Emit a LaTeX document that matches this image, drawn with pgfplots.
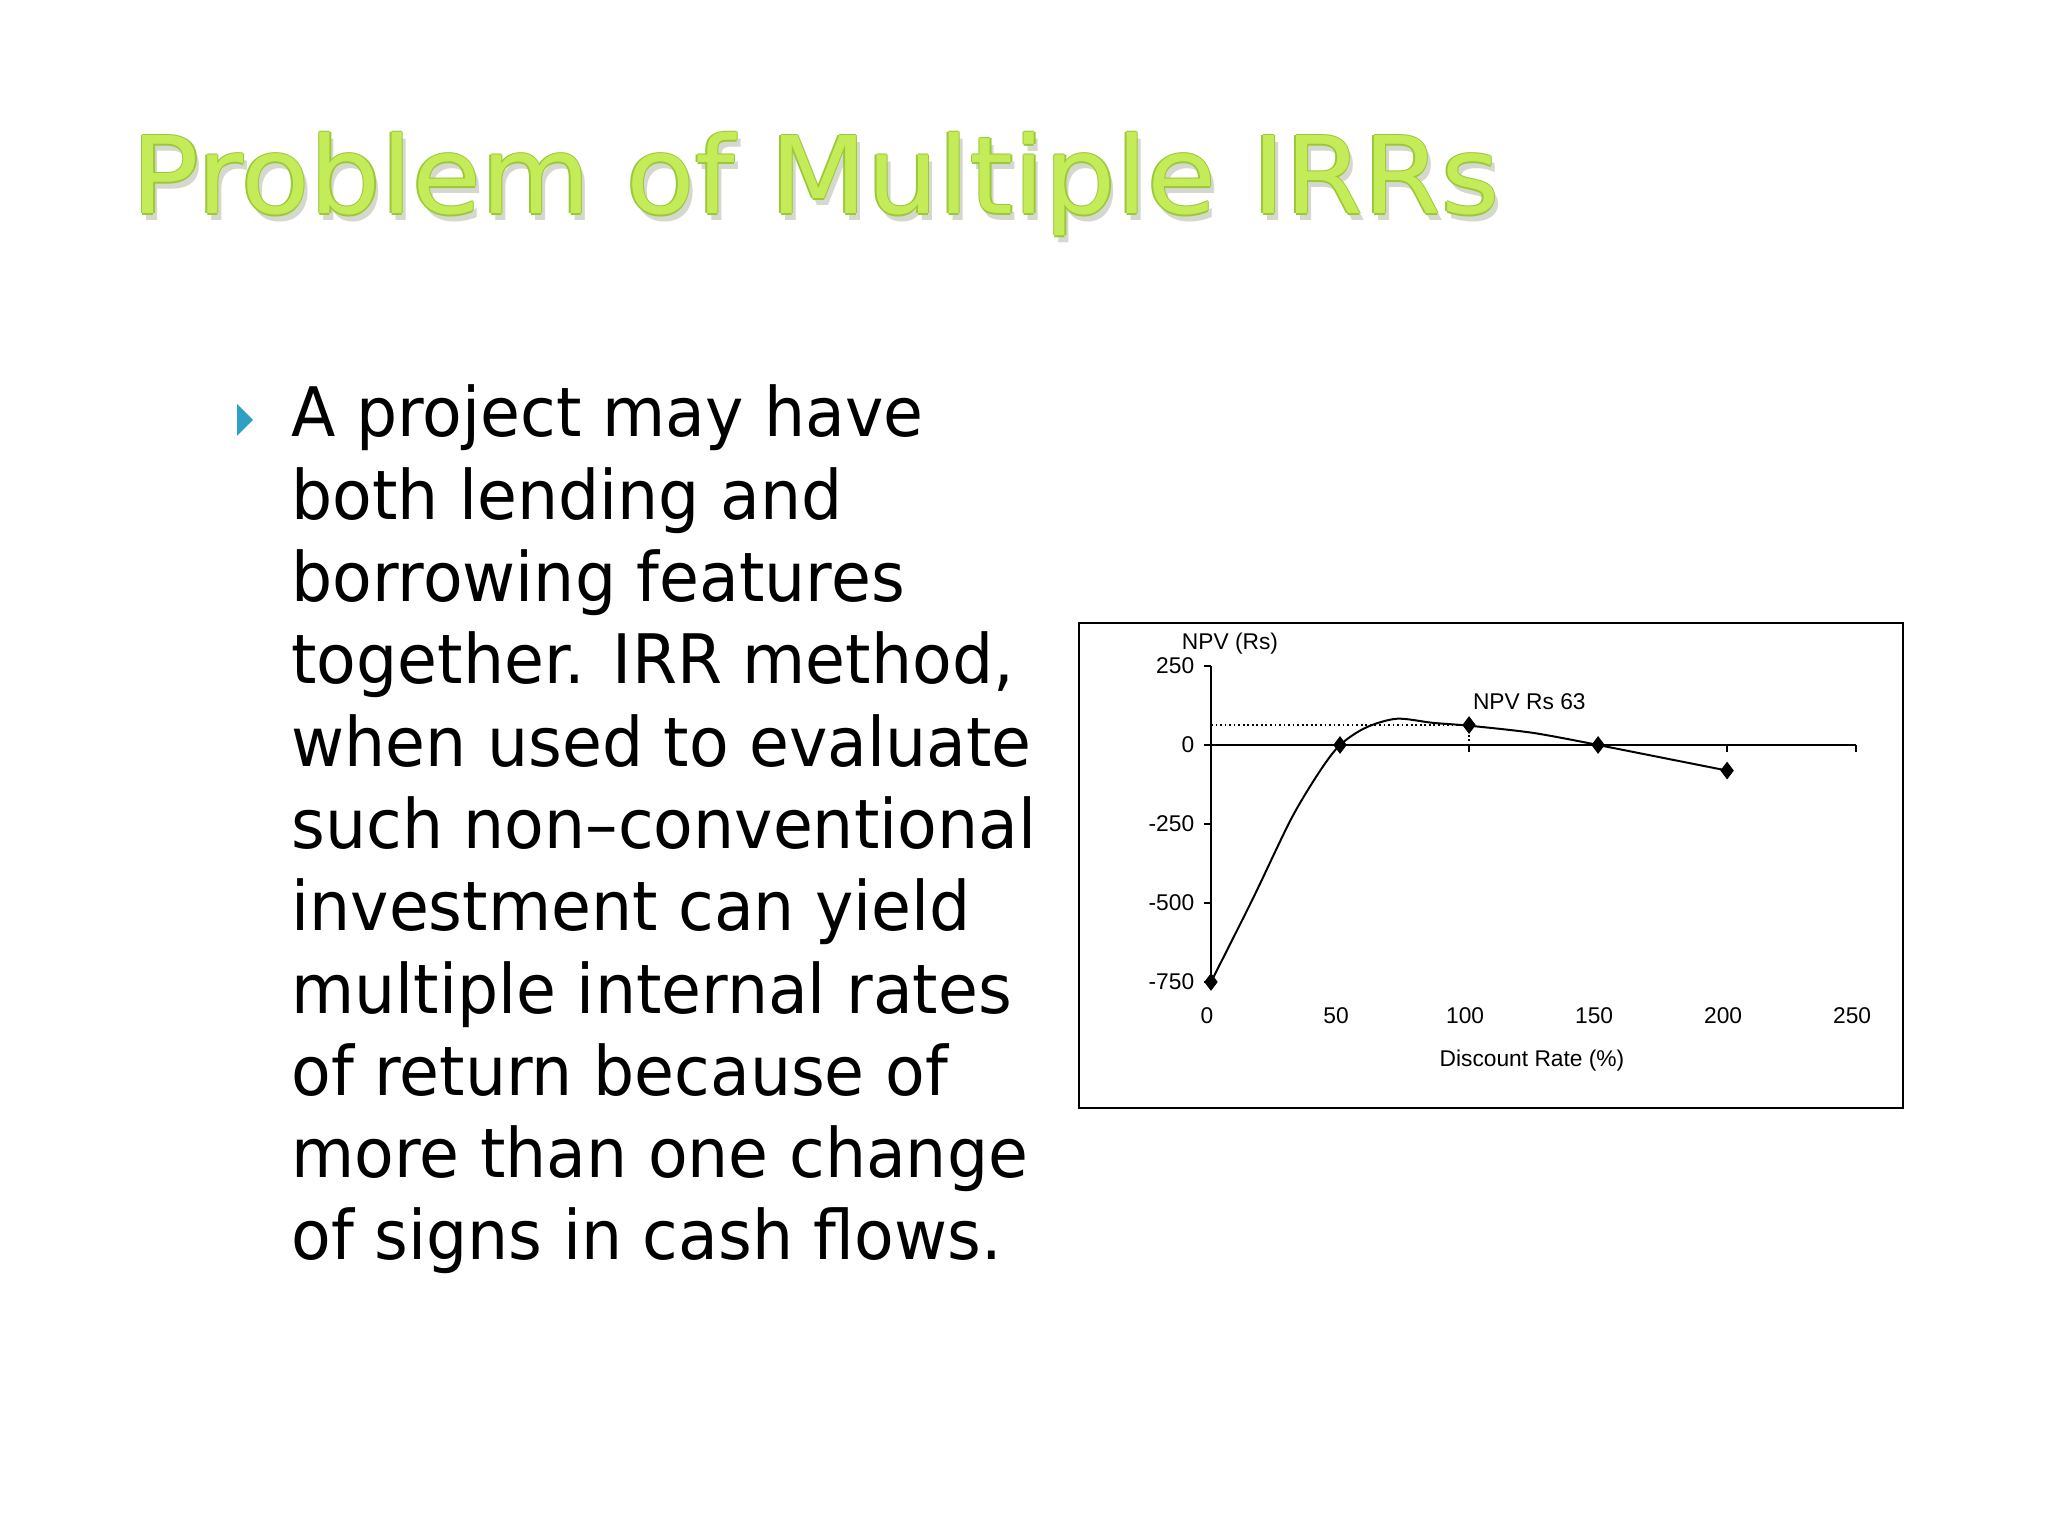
\documentclass[border=0pt]{standalone}
\usepackage{fontspec}
\usepackage{pgfplots}
\pgfplotsset{compat=1.18}
\setmainfont{Liberation Sans}
\newfontfamily\bodyfont{DejaVu Sans}[FakeStretch=0.95]
\newfontfamily\titlefont{DejaVu Sans}[FakeStretch=1.05]
\definecolor{titlegreen}{RGB}{196,236,88}
\definecolor{titleedge}{RGB}{155,200,55}
\definecolor{titleshadow}{RGB}{212,216,206}
\definecolor{bulletteal}{RGB}{46,160,196}
\newcommand{\titletext}{\titlefont\fontsize{37.6bp}{40bp}\selectfont Problem of Multiple IRRs}

\begin{document}
% picture units: 1 unit = 1 px of the 2048x1536 slide, y counted from the bottom
\begin{tikzpicture}[x=0.3515625bp,y=0.3515625bp]
\useasboundingbox (0,0) rectangle (2048,1536);
\fill[white] (0,0) rectangle (2048,1536);

% title: shadow, edge, fill
\node[anchor=base west, inner sep=0, text=titleshadow] at (135,1315) {\titletext};
\foreach \dx/\dy in {-1.5/0, 1.5/0, 0/-1.5, 0/1.5}
  \node[anchor=base west, inner sep=0, text=titleedge] at (131+\dx,1322+\dy) {\titletext};
\node[anchor=base west, inner sep=0, text=titlegreen] at (131,1322) {\titletext};

% bullet and text
\fill[bulletteal] (237,1132) -- (253,1116) -- (237,1100) -- cycle;
\foreach \t [count=\i from 0] in {A project may have, both lending and,
  borrowing features, {together. IRR method,}, when used to evaluate,
  such non–conventional, investment can yield, multiple internal rates,
  of return because of, more than one change, of signs in cash flows.}
  \node[anchor=base west, inner sep=0] at (291,1099-82.3*\i)
    {\bodyfont\fontsize{24bp}{29bp}\selectfont \t};

% chart frame
\draw[line width=0.7bp] (1079,913) rectangle (1903,428);
\coordinate (origin) at (1211,554);

\begin{axis}[
    at={(origin)}, anchor=south west,
    scale only axis, width=226.8bp, height=111.1bp,
    xmin=0, xmax=250, ymin=-750, ymax=250,
    axis x line=middle, axis y line=left,
    axis line style={-, line width=0.7bp, black},
    tick style={line width=0.7bp, black},
    tick align=outside, major tick length=2.4bp,
    xtick={0,50,...,250}, ytick={-750,-500,-250,0,250},
    xticklabels={0,50,100,150,200,250},
    yticklabels={-750,-500,-250,0,250},
    hide obscured x ticks=false, hide obscured y ticks=false,
    ticklabel style={font=\fontsize{8bp}{9.6bp}\selectfont},
    xticklabel style={yshift=-86.3bp, xshift=-1.4bp},
    clip=false,
  ]
  \addplot[densely dotted, line width=0.6bp] coordinates {(0,63) (100,63) (100,0)};
  \addplot[smooth, line width=0.7bp, no markers] coordinates {
    (0,-750) (16,-490) (31,-235) (42,-85) (50,0) (60,55) (72,83)
    (86,70) (100,61) (125,38) (150,0)};
  \addplot[line width=0.7bp, no markers] coordinates {(150,0) (200,-81)};
  \addplot[only marks, mark=diamond*, mark size=2.8bp, black]
    coordinates {(0,-750) (50,0) (100,63) (150,0) (200,-81)};
  \node[anchor=west, inner sep=0, font=\fontsize{8bp}{9.6bp}\selectfont,
    xshift=1.2bp, yshift=8.4bp] at (axis cs:100,63) {NPV Rs 63};
\end{axis}

\node[font=\fontsize{8bp}{9.6bp}\selectfont] at (1230,892) {NPV (Rs)};
\node[font=\fontsize{8bp}{9.6bp}\selectfont] at (1532,475) {Discount Rate (\%)};
\end{tikzpicture}
\end{document}
